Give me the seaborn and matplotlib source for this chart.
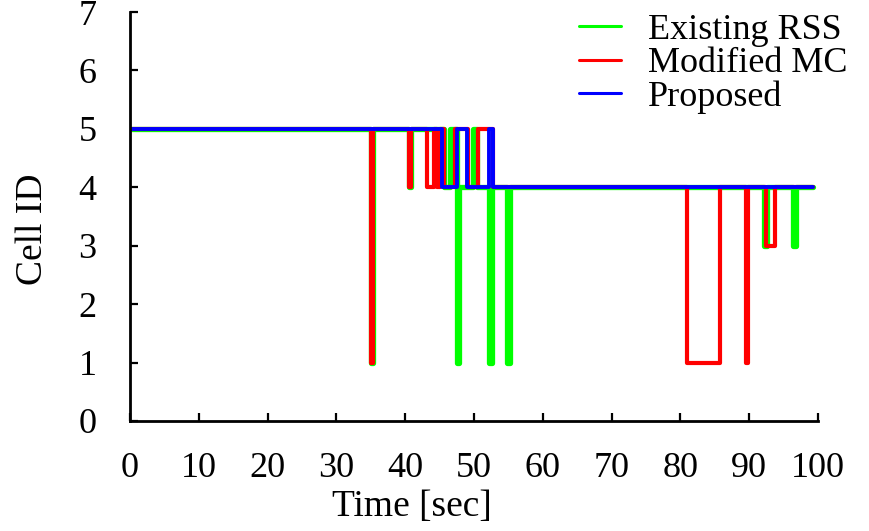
import matplotlib
matplotlib.use('Agg')
import matplotlib.pyplot as plt
import seaborn as sns
import pandas as pd

# step points (time [sec], cell id)
t_rss = [0, 35.0, 35.3, 40.5, 40.8, 45.6, 46.5, 47.5, 47.8, 49.8, 50.4,
         52.2, 52.6, 54.8, 55.2, 92.2, 92.6, 96.4, 96.8, 99.3]
rss = [5, 1, 5, 4, 5, 4, 5, 1, 4, 5, 4, 1, 4, 1, 4, 3, 4, 3, 4, 4]

t_mc = [0, 35.0, 35.3, 40.5, 40.8, 43.2, 44.2, 44.6, 45.1, 45.6, 47.2,
        49.2, 50.6, 52.8, 81.0, 85.8, 89.5, 89.8, 92.4, 93.8, 99.3]
mc = [5, 1, 5, 4, 5, 4, 5, 4, 5, 4, 5, 4, 5, 4, 1, 4, 1, 4, 3, 4, 4]

t_prop = [0, 45.4, 47.5, 49.0, 52.2, 52.7, 99.3]
prop = [5, 4, 5, 4, 5, 4, 4]

labels = ['Existing RSS', 'Modified MC', 'Proposed']
colors = ['#00ff00', '#ff0000', '#0000ff']
widths = [3.8, 3.0, 2.8]

sns.set_style('ticks')
plt.rcParams['font.family'] = ['Liberation Serif', 'DejaVu Serif']
plt.rcParams['text.color'] = 'black'
plt.rcParams['axes.labelcolor'] = 'black'

fig = plt.figure(figsize=(8.69, 5.31), dpi=100)
ax = fig.add_axes([0.1496, 0.2072, 0.7917, 0.7702])

series = [(t_rss, rss), (t_mc, mc), (t_prop, prop)]
for (t, v), lab, c, w in zip(series, labels, colors, widths):
    df = pd.DataFrame({'time': t, 'cell': v})
    sns.lineplot(data=df, x='time', y='cell', ax=ax, color=c, lw=w,
                 label=lab, drawstyle='steps-post', estimator=None, sort=False)

ax.set_xlim(0, 100)
ax.set_ylim(0, 7)
ax.set_xticks(range(0, 101, 10))
ax.set_yticks(range(0, 8))
sns.despine(ax=ax)
for s in ['left', 'bottom']:
    ax.spines[s].set_linewidth(2.0)
    ax.spines[s].set_color('black')
ax.tick_params(axis='both', direction='in', length=6, width=1.6,
               labelsize=26, colors='black', labelcolor='black')
ax.tick_params(axis='x', pad=22)
ax.tick_params(axis='y', pad=24)

ax.set_xlabel('Time [sec]', fontsize=27)
ax.set_ylabel('Cell ID', fontsize=27)
ax.xaxis.set_label_coords(0.41, -0.21)
ax.xaxis.label.set_va('center')
ax.yaxis.set_label_coords(-0.142, 0.47)
ax.yaxis.label.set_va('center')

leg = ax.legend(loc='upper right', bbox_to_anchor=(1.0, 1.015),
                bbox_transform=fig.transFigure, frameon=False, fontsize=26,
                handlelength=1.15, handletextpad=0.75, labelspacing=0.0,
                borderpad=0.1)
for h in leg.get_lines():
    h.set_linewidth(2.2)

fig.savefig('out.png', dpi=100)
